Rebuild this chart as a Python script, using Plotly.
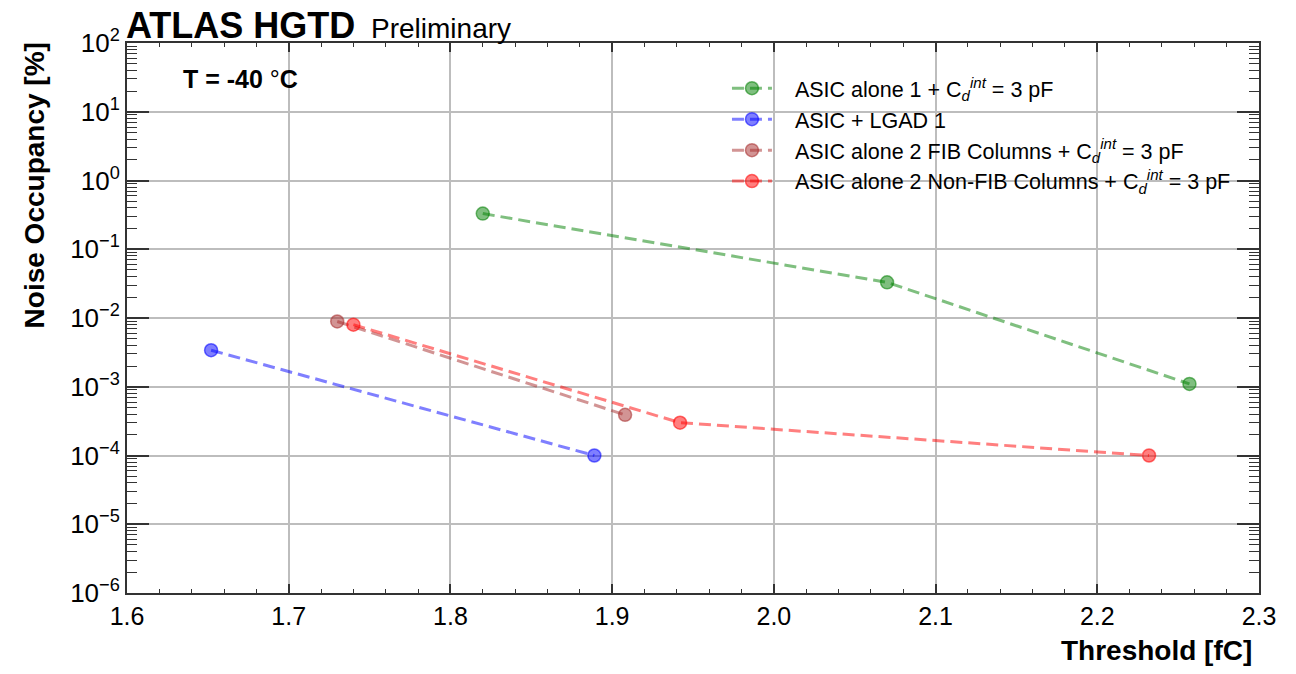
import plotly.graph_objects as go

# ---------------- data ----------------
green_x = [1.82, 2.07, 2.257]
green_y = [0.33, 0.033, 0.0011]
blue_x = [1.652, 1.889]
blue_y = [0.0034, 0.0001]
brown_x = [1.73, 1.908]
brown_y = [0.0089, 0.00039]
red_x = [1.74, 1.942, 2.232]
red_y = [0.008, 0.0003, 0.0001]

names = [
    "ASIC alone 1 + C<sub><i>d</i></sub><sup><i>int</i></sup> = 3 pF",
    "ASIC + LGAD 1",
    "ASIC alone 2 FIB Columns + C<sub><i>d</i></sub><sup><i>int</i></sup> = 3 pF",
    "ASIC alone 2 Non-FIB Columns + C<sub><i>d</i></sub><sup><i>int</i></sup> = 3 pF",
]
colors = [(0, 128, 0), (0, 0, 255), (165, 42, 42), (255, 0, 0)]
xs = [green_x, blue_x, brown_x, red_x]
ys = [green_y, blue_y, brown_y, red_y]

y_exps = [-6, -5, -4, -3, -2, -1, 0, 1, 2]
y_ticktext = ["10<sup>%s</sup>" % (("\u2212" + str(-e)) if e < 0 else str(e)) for e in y_exps]
x_ticks = [1.6, 1.7, 1.8, 1.9, 2.0, 2.1, 2.2, 2.3]

FONT = "Liberation Sans, Arial, Helvetica, sans-serif"
PAD = "\u00a0\u00a0\u00a0"
FRAME = "#333333"

fig = go.Figure()
for name, c, x, y in zip(names, colors, xs, ys):
    rgb = "%d,%d,%d" % c
    fig.add_trace(go.Scatter(
        x=x, y=y, mode="lines+markers", name=PAD + name,
        line=dict(color="rgba(%s,0.5)" % rgb, width=3, dash="12px,6px"),
        marker=dict(size=13, color="rgba(%s,0.5)" % rgb,
                    line=dict(color="rgba(%s,0.55)" % rgb, width=1.5)),
    ))

minor_y = [m * 10.0 ** e for e in range(-6, 2) for m in range(2, 10)]

# page body has an 8px margin, so the figure is sized to fit the window
fig.update_layout(
    width=1280, height=658,
    margin=dict(l=119, r=18, t=35, b=73),
    paper_bgcolor="white", plot_bgcolor="white",
    font=dict(family=FONT, color="black"),
    showlegend=True,
    legend=dict(x=0.530, y=0.955, xanchor="left", yanchor="top",
                bgcolor="rgba(0,0,0,0)", borderwidth=0,
                font=dict(size=21.5, family=FONT), itemwidth=40,
                tracegroupgap=0),
    xaxis=dict(
        range=[1.6, 2.3], tickmode="array", tickvals=x_ticks,
        ticktext=["%.1f" % v for v in x_ticks],
        ticks="inside", ticklen=9, tickwidth=1.5, tickcolor=FRAME,
        showline=True, linecolor=FRAME, linewidth=2, mirror="ticks",
        showgrid=True, gridcolor="#bdbdbd", gridwidth=1.5,
        zeroline=False, tickfont=dict(size=25, family=FONT),
        minor=dict(dtick=0.02, tick0=1.6, ticks="inside", ticklen=4,
                   tickwidth=1.2, tickcolor=FRAME, showgrid=False),
    ),
    yaxis=dict(
        type="log", range=[-6, 2], tickmode="array",
        tickvals=[10.0 ** e for e in y_exps], ticktext=y_ticktext,
        ticks="inside", ticklen=22, tickwidth=1.5, tickcolor=FRAME,
        showline=True, linecolor=FRAME, linewidth=2, mirror="ticks",
        showgrid=True, gridcolor="#bdbdbd", gridwidth=1.5,
        zeroline=False, tickfont=dict(size=26, family=FONT),
        minor=dict(tickmode="array", tickvals=minor_y, ticks="inside", ticklen=10,
                   tickwidth=1.2, tickcolor=FRAME, showgrid=False),
    ),
    annotations=[
        dict(text="<b>ATLAS HGTD</b>", xref="paper", yref="paper", x=0.0, y=1.0,
             xanchor="left", yanchor="bottom", showarrow=False,
             font=dict(size=36, family=FONT), xshift=-3, yshift=-5),
        dict(text="Preliminary", xref="paper", yref="paper", x=0.2135, y=1.0,
             xanchor="left", yanchor="bottom", showarrow=False,
             font=dict(size=28, family=FONT), yshift=-3),
        dict(text="<b>T = -40 </b>\u00b0<b>C</b>", xref="paper", yref="paper", x=0.048, y=0.935,
             xanchor="left", yanchor="middle", showarrow=False,
             font=dict(size=25, family=FONT)),
        dict(text="<b>Noise Occupancy [%]</b>", xref="paper", yref="paper",
             x=-0.082, y=1.005, xanchor="center", yanchor="top", textangle=-90,
             showarrow=False, font=dict(size=28, family=FONT)),
        dict(text="<b>Threshold [fC]</b>", xref="paper", yref="paper",
             x=0.985, y=-0.105, xanchor="right", yanchor="middle", xshift=12,
             showarrow=False, font=dict(size=28, family=FONT)),
    ],
)

fig.write_html("out.html")
